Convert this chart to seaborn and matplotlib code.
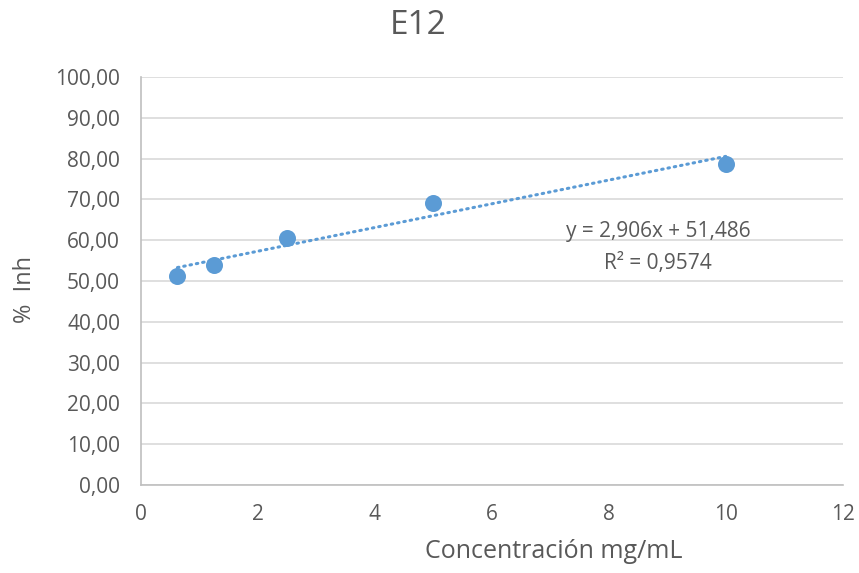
import numpy as np
import matplotlib
matplotlib.use("Agg")
import matplotlib.pyplot as plt
import seaborn as sns

# data
concentracion = [0.625, 1.25, 2.5, 5, 10]
inhibicion = [51.2, 53.8, 60.6, 69.0, 78.8]
pendiente = 2.906
intercepto = 51.486
r2_texto = "R² = 0,9574"
eq_texto = "y = 2,906x + 51,486"

sns.set_style("white")
plt.rcParams["font.family"] = ["Open Sans", "DejaVu Sans"]

azul = "#5b9bd5"
gris_txt = "#595959"

fig = plt.figure(figsize=(8.59, 5.73), dpi=100)
ax = fig.add_axes([0.164, 0.1536, 0.817, 0.712])

# trendline
xs = np.array([min(concentracion), max(concentracion)])
ax.plot(xs, pendiente * xs + intercepto, color=azul, lw=2.2,
        linestyle=(0, (0.5, 1.6)), dash_capstyle="round", zorder=2)
sns.scatterplot(x=concentracion, y=inhibicion, ax=ax, color=azul, s=150,
                edgecolor=azul, linewidth=0, zorder=3)

ax.set_xlim(0, 12)
ax.set_ylim(0, 100)
ax.set_xticks(range(0, 13, 2))
ax.set_yticks(range(0, 101, 10))
ax.set_yticklabels([f"{v:.2f}".replace(".", ",") for v in range(0, 101, 10)])
ax.tick_params(axis="both", colors=gris_txt, labelsize=15, length=0)
ax.tick_params(axis="y", pad=15)
ax.tick_params(axis="x", pad=14)
ax.yaxis.grid(True, color="#d9d9d9", lw=1.2)
ax.xaxis.grid(False)
for s in ["top", "right"]:
    ax.spines[s].set_visible(False)
for s in ["left", "bottom"]:
    ax.spines[s].set_color("#bfbfbf")
    ax.spines[s].set_linewidth(1.2)

fig.text(0.645, 0.038, "Concentración mg/mL", color=gris_txt, fontsize=18,
         ha="center", va="center")
fig.text(0.029, 0.494, "%  Inh", color=gris_txt, fontsize=17,
         ha="center", va="center", rotation=90)
fig.text(0.487, 0.956, "E12", color=gris_txt, fontsize=24,
         ha="center", va="center")

ax.text(8.84, 62.2, eq_texto, color=gris_txt, fontsize=15, ha="center", va="center")
ax.text(8.84, 54.4, r2_texto, color=gris_txt, fontsize=15, ha="center", va="center")

fig.savefig("out.png", dpi=100)
